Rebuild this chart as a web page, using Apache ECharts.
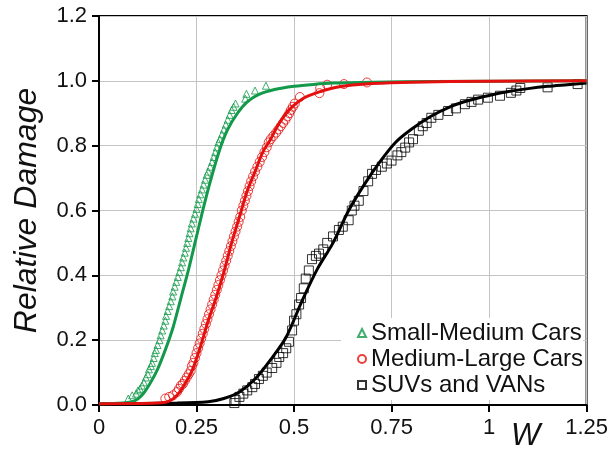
<!DOCTYPE html>
<html>
<head>
<meta charset="utf-8">
<script src="https://cdn.jsdelivr.net/npm/echarts@6/dist/echarts.min.js"></script>
<style>
  html, body { margin: 0; padding: 0; background: #fff; }
  #chart { width: 611px; height: 452px; }
</style>
</head>
<body>
<div id="chart"></div>
<script>
// x ticks / y ticks
const xTicks = [0, 0.25, 0.5, 0.75, 1, 1.25];
const yTicks = [0, 0.2, 0.4, 0.6, 0.8, 1.0, 1.2];

const seriesNames = ['Small-Medium Cars', 'Medium-Large Cars', 'SUVs and VANs'];

// observed points (W, relative damage)
const smallMediumPts = [
  [0.075,0.02],[0.085,0.03],[0.095,0.035],[0.1,0.045],[0.105,0.05],[0.11,0.06],[0.115,0.07],[0.12,0.085],
  [0.125,0.095],[0.128,0.11],[0.133,0.12],[0.136,0.13],[0.14,0.145],[0.143,0.16],[0.146,0.17],[0.15,0.185],
  [0.155,0.2],[0.158,0.215],[0.162,0.23],[0.166,0.245],[0.17,0.26],[0.172,0.275],[0.176,0.29],[0.18,0.305],
  [0.184,0.32],[0.188,0.335],[0.19,0.35],[0.194,0.365],[0.198,0.38],[0.202,0.395],[0.206,0.41],[0.21,0.425],
  [0.213,0.44],[0.216,0.455],[0.22,0.47],[0.223,0.485],[0.226,0.5],[0.229,0.515],[0.232,0.53],[0.235,0.545],
  [0.238,0.56],[0.242,0.575],[0.246,0.59],[0.25,0.605],[0.253,0.62],[0.256,0.635],[0.26,0.65],[0.264,0.665],
  [0.268,0.68],[0.272,0.695],[0.276,0.71],[0.28,0.72],[0.285,0.735],[0.29,0.75],[0.294,0.765],[0.298,0.78],
  [0.302,0.795],[0.306,0.81],[0.31,0.82],[0.315,0.835],[0.32,0.85],[0.325,0.865],[0.33,0.88],[0.335,0.895],
  [0.34,0.91],[0.345,0.92],[0.35,0.93],[0.375,0.945],[0.378,0.96],[0.4,0.97],[0.428,0.985]
];
const mediumLargePts = [
  [0.17,0.02],[0.18,0.025],[0.19,0.03],[0.2,0.04],[0.205,0.05],[0.21,0.06],[0.215,0.065],[0.22,0.075],
  [0.225,0.085],[0.23,0.095],[0.235,0.105],[0.238,0.12],[0.242,0.13],[0.246,0.145],[0.25,0.16],[0.254,0.175],
  [0.258,0.19],[0.262,0.205],[0.266,0.22],[0.27,0.235],[0.274,0.25],[0.278,0.265],[0.282,0.28],[0.286,0.295],
  [0.29,0.31],[0.294,0.325],[0.298,0.34],[0.302,0.355],[0.306,0.37],[0.31,0.385],[0.314,0.4],[0.318,0.415],
  [0.322,0.43],[0.326,0.445],[0.33,0.46],[0.334,0.475],[0.338,0.49],[0.342,0.505],[0.346,0.52],[0.35,0.535],
  [0.354,0.55],[0.358,0.565],[0.362,0.58],[0.366,0.6],[0.37,0.615],[0.374,0.63],[0.378,0.645],[0.382,0.66],
  [0.386,0.675],[0.39,0.69],[0.395,0.705],[0.4,0.72],[0.406,0.735],[0.412,0.75],[0.418,0.765],[0.424,0.78],
  [0.43,0.795],[0.435,0.81],[0.44,0.82],[0.447,0.83],[0.454,0.84],[0.46,0.85],[0.466,0.86],[0.472,0.87],
  [0.478,0.88],[0.483,0.89],[0.488,0.9],[0.492,0.91],[0.497,0.92],[0.502,0.93],[0.515,0.95],[0.565,0.962],
  [0.567,0.978],[0.585,0.988],[0.628,0.99],[0.687,0.995]
];
const suvVanPts = [
  [0.347,0.006],[0.35,0.015],[0.36,0.025],[0.37,0.035],[0.38,0.045],[0.393,0.055],[0.4,0.065],[0.41,0.08],
  [0.42,0.09],[0.43,0.1],[0.444,0.114],[0.455,0.13],[0.462,0.148],[0.472,0.16],[0.48,0.175],[0.487,0.195],
  [0.495,0.23],[0.5,0.26],[0.506,0.28],[0.513,0.31],[0.518,0.33],[0.525,0.36],[0.53,0.39],[0.538,0.415],
  [0.546,0.45],[0.556,0.46],[0.564,0.467],[0.575,0.48],[0.585,0.5],[0.6,0.52],[0.615,0.54],[0.625,0.55],
  [0.64,0.57],[0.648,0.6],[0.655,0.615],[0.666,0.63],[0.678,0.66],[0.69,0.69],[0.7,0.713],[0.71,0.725],
  [0.725,0.735],[0.738,0.745],[0.75,0.754],[0.765,0.77],[0.775,0.78],[0.785,0.794],[0.795,0.81],[0.805,0.82],
  [0.82,0.846],[0.83,0.86],[0.84,0.87],[0.852,0.886],[0.87,0.895],[0.895,0.907],[0.915,0.915],[0.938,0.928],
  [0.955,0.935],[0.972,0.942],[0.997,0.948],[1.028,0.954],[1.056,0.963],[1.07,0.97],[1.08,0.978],[1.15,0.98],
  [1.227,0.99]
];

// fitted curves
const smallMediumFit = [
  [0,0.004],[0.06,0.006],[0.09,0.012],[0.11,0.03],[0.13,0.065],[0.15,0.11],[0.17,0.17],[0.19,0.24],
  [0.21,0.33],[0.23,0.42],[0.25,0.52],[0.27,0.62],[0.29,0.71],[0.31,0.79],[0.33,0.85],[0.355,0.9],
  [0.38,0.935],[0.41,0.958],[0.45,0.973],[0.5,0.983],[0.55,0.989],[0.6,0.993],[0.7,0.996],[0.85,0.998],[1.25,1.0]
];
const mediumLargeFit = [
  [0,0.004],[0.15,0.006],[0.18,0.012],[0.2,0.03],[0.22,0.065],[0.24,0.11],[0.26,0.18],[0.28,0.26],
  [0.3,0.33],[0.32,0.41],[0.34,0.5],[0.36,0.58],[0.38,0.66],[0.4,0.72],[0.42,0.78],[0.44,0.82],
  [0.46,0.865],[0.48,0.9],[0.5,0.925],[0.525,0.947],[0.55,0.96],[0.6,0.978],[0.65,0.987],[0.7,0.992],
  [0.8,0.996],[1.0,0.999],[1.25,1.0]
];
const suvVanFit = [
  [0,0.004],[0.2,0.006],[0.28,0.01],[0.32,0.02],[0.36,0.04],[0.4,0.08],[0.44,0.14],[0.48,0.21],
  [0.52,0.32],[0.56,0.42],[0.6,0.5],[0.64,0.6],[0.68,0.68],[0.72,0.75],[0.76,0.81],[0.8,0.85],
  [0.85,0.89],[0.9,0.92],[0.95,0.94],[1.0,0.955],[1.05,0.967],[1.1,0.976],[1.15,0.983],[1.2,0.988],[1.25,0.993]
];

const GREEN = '#12994a';
const RED = '#e3100f';
const BLACK = '#000000';
const FONT = 'Liberation Sans';

function pts(name, data, symbol, size, color) {
  return {
    name: name,
    type: 'scatter',
    data: data,
    symbol: symbol,
    symbolSize: size,
    itemStyle: { color: 'rgba(255,255,255,0)', borderColor: color, borderWidth: 1 },
    z: 2
  };
}
function fit(data, color) {
  return {
    type: 'line',
    data: data,
    showSymbol: false,
    smooth: 0.3,
    lineStyle: { color: color, width: 3 },
    z: 3
  };
}

const chart = echarts.init(document.getElementById('chart'));
chart.setOption({
  animation: false,
  backgroundColor: '#fff',
  textStyle: { fontFamily: FONT },
  grid: {
    left: 99, right: 22, top: 16, bottom: 47,
    show: true, borderColor: BLACK, borderWidth: 2
  },
  xAxis: {
    type: 'value',
    min: xTicks[0], max: xTicks[xTicks.length - 1], interval: 0.25,
    axisLine: { show: true, lineStyle: { color: BLACK, width: 2 } },
    axisTick: { show: true, length: 7, lineStyle: { color: BLACK, width: 2 } },
    axisLabel: { color: '#111', fontSize: 22, margin: 12, fontFamily: FONT },
    splitLine: { show: true, lineStyle: { color: '#c4c4c4', width: 1 } }
  },
  yAxis: {
    type: 'value',
    min: yTicks[0], max: yTicks[yTicks.length - 1], interval: 0.2,
    name: 'Relative Damage',
    nameLocation: 'middle',
    nameGap: 56,
    nameTextStyle: { fontSize: 32, fontStyle: 'italic', color: '#111', fontFamily: FONT },
    axisLine: { show: true, lineStyle: { color: BLACK, width: 2 } },
    axisTick: { show: true, length: 7, lineStyle: { color: BLACK, width: 2 } },
    axisLabel: { color: '#111', fontSize: 22, margin: 12, fontFamily: FONT,
      formatter: v => v.toFixed(1) },
    splitLine: { show: true, lineStyle: { color: '#c4c4c4', width: 1 } }
  },
  legend: {
    data: seriesNames,
    orient: 'vertical',
    left: 341, top: 318,
    padding: [3, 0, 3, 16],
    backgroundColor: '#fff',
    itemWidth: 8, itemHeight: 8, itemGap: 2,
    textStyle: { fontSize: 24, color: '#111', fontFamily: FONT, lineHeight: 22 }
  },
  graphic: [{
    type: 'text', left: 511, top: 421,
    style: { text: 'W', font: 'italic 31px "Liberation Sans"', fill: '#111' }
  }],
  series: [
    pts(seriesNames[0], smallMediumPts, 'triangle', 7, GREEN),
    pts(seriesNames[1], mediumLargePts, 'circle', 9, RED),
    pts(seriesNames[2], suvVanPts, 'rect', 9, BLACK),
    fit(suvVanFit, BLACK),
    fit(smallMediumFit, GREEN),
    fit(mediumLargeFit, RED)
  ]
});
</script>
</body>
</html>
